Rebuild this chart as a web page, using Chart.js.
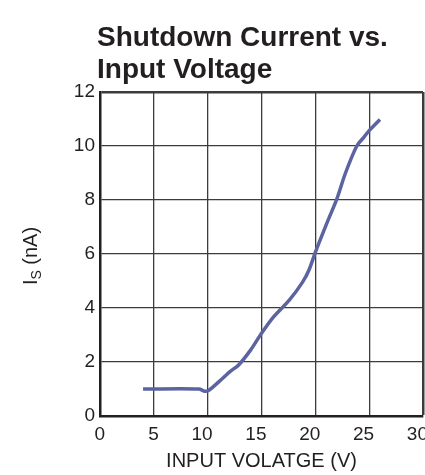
<!DOCTYPE html>
<html>
<head>
<meta charset="utf-8">
<script src="https://cdn.jsdelivr.net/npm/chart.js@4"></script>
<style>
  html, body { margin: 0; padding: 0; background: #fff; }
  #wrap { width: 425px; height: 475px; position: relative; }
</style>
</head>
<body>
<div id="wrap"><canvas id="chart"></canvas></div>
<script>
/* Data */
const inputVoltage    = [4.0, 9.2, 9.7, 10.1, 11.4, 12.1, 12.9, 14.0, 14.9, 16.1, 17.6, 18.8, 19.4, 20.0, 21.1, 22.0, 22.8, 23.85, 24.5, 25.0, 26.0];
const shutdownCurrent = [1.0, 1.0, 0.92, 0.95, 1.4, 1.65, 1.9, 2.45, 3.0, 3.66, 4.3, 4.95, 5.4, 6.06, 7.17, 8.04, 9.0, 10.0, 10.32, 10.57, 10.98];
const xTicks = [0, 5, 10, 15, 20, 25, 30];
const yTicks = [0, 2, 4, 6, 8, 10, 12];
const titleLines = ['Shutdown Current vs.', 'Input Voltage'];

const FONT = "'Liberation Sans', Arial, Helvetica, sans-serif";
const INK = '#231f20';
const GRID = '#3c3c3c';

let points = inputVoltage.map((v, i) => ({x: v, y: shutdownCurrent[i]}));

/* y axis title with subscript S, drawn rotated */
const yTitlePlugin = {
    id: 'yTitle',
    beforeDraw(chart) {
        // nudge the title block a little left of the plot edge, like the original
        if (chart.titleBlock) {
            chart.titleBlock.left = chart.chartArea.left - 3;
        }
    },
    afterDraw(chart) {
        const ctx = chart.ctx;
        const area = chart.chartArea;
        ctx.save();
        ctx.translate(37, (area.top + area.bottom) / 2 + 2);
        ctx.rotate(-Math.PI / 2);
        ctx.fillStyle = INK;
        ctx.textBaseline = 'alphabetic';
        const big = '20px ' + FONT;
        const small = '14px ' + FONT;
        ctx.font = big;
        const wI = ctx.measureText('I').width;
        const wRest = ctx.measureText(' (nA)').width;
        ctx.font = small;
        const wS = ctx.measureText('S').width;
        let x = -(wI + wS + wRest) / 2;
        ctx.font = big;
        ctx.fillText('I', x, 0);
        x += wI;
        ctx.font = small;
        ctx.fillText('S', x, 4);
        x += wS;
        ctx.font = big;
        ctx.fillText(' (nA)', x, 0);
        ctx.restore();
    }
};

let ctx = document.getElementById('chart');
let chart = new Chart(ctx, {
    type: 'line',
    data: {
        datasets: [{
            data: points,
            borderColor: '#5b64a0',
            borderWidth: 3.5,
            pointRadius: 0,
            tension: 0.3,
            fill: false
        }]
    },
    options: {
        responsive: true,
        maintainAspectRatio: false,
        animation: false,
        layout: { padding: { left: 0, right: 2, top: 0, bottom: 0 } },
        plugins: {
            legend: { display: false },
            tooltip: { enabled: false },
            title: {
                display: true,
                text: titleLines,
                align: 'start',
                fullSize: false,
                color: INK,
                font: { family: FONT, size: 28, weight: 'bold', lineHeight: 1.15 },
                padding: { top: 22, bottom: 5.6 }
            }
        },
        scales: {
            x: {
                type: 'linear',
                min: 0,
                max: 30,
                afterBuildTicks(scale) { scale.ticks = xTicks.map(v => ({value: v})); },
                afterFit(scale) {
                    scale.height = 59;
                    scale.paddingRight = 0;
                },
                grid: {
                    color: GRID,
                    lineWidth: c => (c.index === xTicks.length - 1 ? 2.5 : 1.3),
                    drawTicks: false
                },
                border: { color: INK, width: 2.5 },
                ticks: {
                    color: INK,
                    font: { family: FONT, size: 19 },
                    padding: 7,
                    align: 'end',
                    labelOffset: 5,
                    maxRotation: 0
                },
                title: {
                    display: true,
                    text: 'INPUT VOLATGE (V)',
                    color: INK,
                    font: { family: FONT, size: 20 },
                    padding: { top: 0, bottom: 2 }
                }
            },
            y: {
                min: 0,
                max: 12,
                afterBuildTicks(scale) { scale.ticks = yTicks.map(v => ({value: v})); },
                afterFit(scale) { scale.width = 100; },
                grid: {
                    color: GRID,
                    lineWidth: c => (c.index === yTicks.length - 1 ? 2.5 : 1.3),
                    drawTicks: false
                },
                border: { color: INK, width: 2.5 },
                ticks: {
                    color: INK,
                    font: { family: FONT, size: 19 },
                    padding: 5
                }
            }
        }
    },
    plugins: [yTitlePlugin]
});
</script>
</body>
</html>
